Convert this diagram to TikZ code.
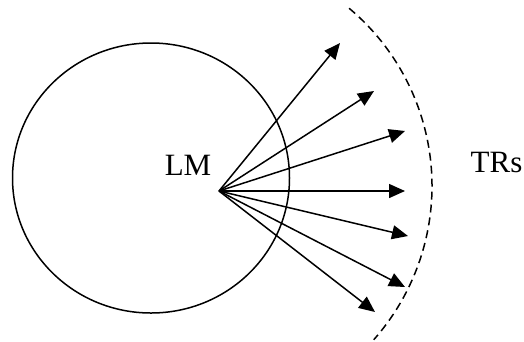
\documentclass[tikz,border=0pt]{standalone}
\usepackage{fontspec}
\setmainfont{Liberation Serif}
\usetikzlibrary{arrows.meta,positioning}

\begin{document}
\begin{tikzpicture}[x=1pt, y=-1pt, line width=1.5pt,
    beam/.style={-{Triangle[length=16pt,width=14pt]}},
    lbl/.style={inner sep=0pt, anchor=base, font=\fontsize{31}{36}\selectfont}]
  \useasboundingbox (0,0) rectangle (524,341);
  % coverage circle
  \draw (151,178) ellipse [x radius=138.5, y radius=135];
  \node[lbl] (lm) at (188,175) {LM};
  % reach boundary (y runs downward here, so angles are mirrored)
  \draw[dash pattern=on 8pt off 5pt] (200,186) ++(-50:232) arc [start angle=-50, end angle=41.5, radius=232];
  \node[lbl] (trs) at (496.5,172) {TRs};
  % beams
  \coordinate (src) at (219,191);
  \foreach \n/\p in {1/{340,43}, 2/{374,91}, 3/{405,131}, 4/{405,191}, 5/{408,236}, 6/{405,287}, 7/{375,312}} {
    \coordinate (t\n) at (\p);
    \draw[beam] (src) -- (t\n);
  }
\end{tikzpicture}
\end{document}
